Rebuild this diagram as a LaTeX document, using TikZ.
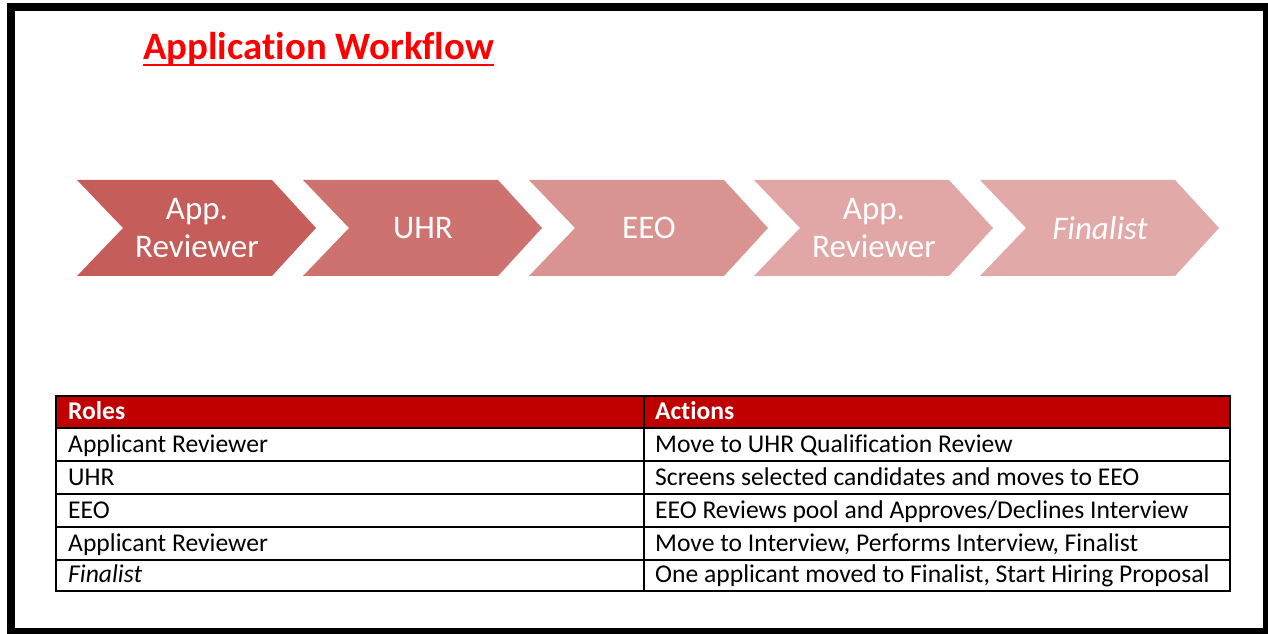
\documentclass[tikz,border=0pt]{standalone}
\usepackage{fontspec}
\setmainfont{Carlito}[Ligatures=NoCommon]
\definecolor{stepA}{RGB}{197,94,91}
\definecolor{stepB}{RGB}{206,114,112}
\definecolor{stepC}{RGB}{217,147,145}
\definecolor{stepD}{RGB}{224,167,166}
\definecolor{stepE}{RGB}{225,169,168}
\definecolor{headred}{RGB}{192,0,0}
\definecolor{titlered}{RGB}{255,0,0}
\tikzset{
  chevtext/.style={text=white,font=\fontsize{33}{38}\selectfont,align=center,inner sep=0pt},
  cell/.style={anchor=base west,font=\fontsize{25.6}{30}\selectfont,inner sep=0pt},
  headcell/.style={cell,text=white,font=\fontsize{25.6}{30}\selectfont\bfseries},
  tableline/.style={black,line width=1.5pt}
}
\begin{document}
\begin{tikzpicture}[x=1pt,y=1pt]
   \useasboundingbox (0,0) rectangle (1268,634);
   \fill [white] (0,0) rectangle (1268,634);
   \draw [line width=8pt] (11,2) rectangle (1267,627);
   \node [anchor=base west,inner sep=0pt,text=titlered,font=\fontsize{38.8}{44}\selectfont\bfseries] (title) at (143,574) {Application Workflow};
   \draw [titlered,line width=2pt] ([yshift=-5pt]title.base west) -- ([yshift=-5pt]title.base east);
   \foreach \x/\col/\lbl [count=\i] in {77/stepA/{App.\\Reviewer},303/stepB/UHR,529/stepC/EEO,754/stepD/{App.\\Reviewer},980/stepE/{\textit{Finalist}}} {
      \fill [\col] (\x,454) -- ++(195,0) -- ++(44,-48) -- ++(-44,-48) -- ++(-195,0) -- ++(46,48) -- cycle;
      \node [chevtext] (step\i) at (\x+120,406) {\lbl};
   }
   \fill [headred] (56,206) rectangle (1230,238);
   \foreach \y in {206,173,140,107,74} \draw [tableline] (56,\y) -- (1230,\y);
   \draw [tableline] (56,43) rectangle (1230,238);
   \draw [tableline] (644,43) -- (644,238);
   \node [headcell] (roles) at (68,214) {Roles};
   \node [headcell] (actions) at (655,214) {Actions};
   \foreach \yb/\role/\act [count=\i] in {181/{Applicant Reviewer}/{Move to UHR Qualification Review},
      148/{UHR}/{Screens selected candidates and moves to EEO},
      115/{EEO}/{EEO Reviews pool and Approves/Declines Interview},
      82/{Applicant Reviewer}/{Move to Interview, Performs Interview, Finalist},
      51/{\textit{Finalist}}/{One applicant moved to Finalist, Start Hiring Proposal}} {
      \node [cell] (role\i) at (68,\yb) {\role};
      \node [cell] (act\i) at (655,\yb) {\act};
   }
\end{tikzpicture}
\end{document}
